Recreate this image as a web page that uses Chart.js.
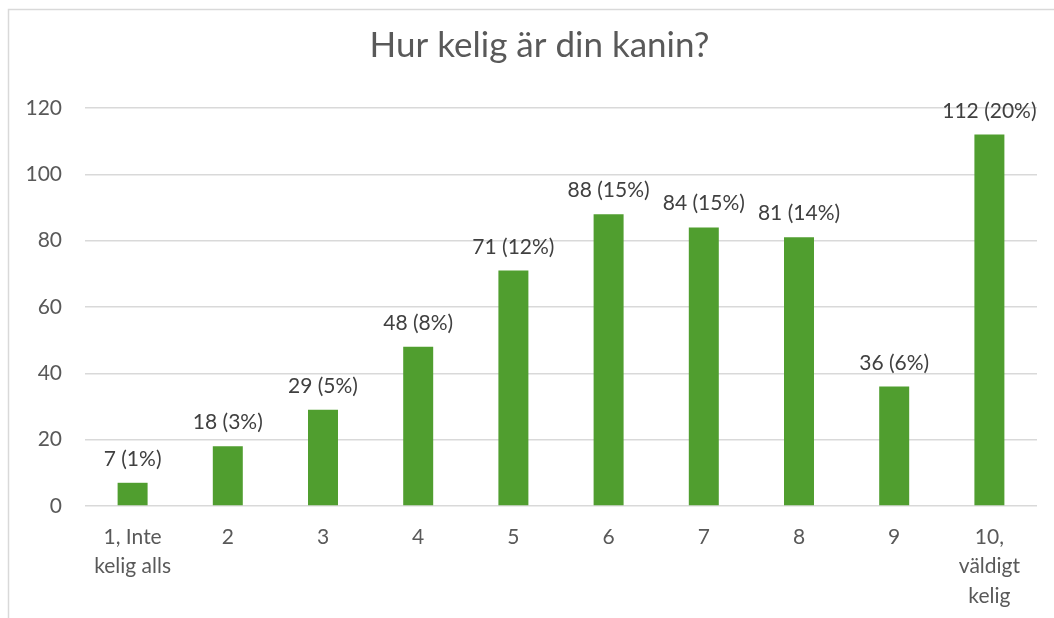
<!DOCTYPE html>
<html>
<head>
<meta charset="utf-8">
<script src="https://cdn.jsdelivr.net/npm/chart.js@4"></script>
<style>
  html, body { margin: 0; padding: 0; background: #fff; }
  #wrap { width: 1054px; height: 618px; }
</style>
</head>
<body>
<div id="wrap"><canvas id="c" width="1054" height="618"></canvas></div>
<script>
const kategorier = [['1, Inte', 'kelig alls'], '2', '3', '4', '5', '6', '7', '8', '9', ['10,', 'väldigt', 'kelig']];
const antal = [7, 18, 29, 48, 71, 88, 84, 81, 36, 112];
const procent = [1, 3, 5, 8, 12, 15, 15, 14, 6, 20];
const rubrik = 'Hur kelig är din kanin?';

const typsnitt = 'Lato, "Open Sans", sans-serif';

// ram runt diagrammet (bara vänster och övre kant syns)
const ram = {
  id: 'ram',
  beforeDraw(chart) {
    const ctx = chart.ctx;
    ctx.save();
    ctx.fillStyle = '#fff';
    ctx.fillRect(0, 0, chart.width, chart.height);
    ctx.strokeStyle = '#d9d9d9';
    ctx.lineWidth = 1.5;
    ctx.beginPath();
    ctx.moveTo(8.5, chart.height);
    ctx.lineTo(8.5, 9.5);
    ctx.lineTo(chart.width, 9.5);
    ctx.stroke();
    ctx.restore();
  }
};

// etiketter ovanför staplarna
const etiketter = {
  id: 'etiketter',
  afterDatasetsDraw(chart) {
    const ctx = chart.ctx;
    const meta = chart.getDatasetMeta(0);
    ctx.save();
    ctx.font = '21px ' + typsnitt;
    ctx.fillStyle = '#404040';
    ctx.textAlign = 'center';
    ctx.textBaseline = 'alphabetic';
    meta.data.forEach((bar, i) => {
      ctx.fillText(antal[i] + ' (' + procent[i] + '%)', bar.x, bar.y - 17);
    });
    ctx.restore();
  }
};

new Chart(document.getElementById('c'), {
  type: 'bar',
  data: {
    labels: kategorier,
    datasets: [{
      data: antal,
      backgroundColor: '#509e2f',
      categoryPercentage: 1,
      barPercentage: 0.315
    }]
  },
  options: {
    responsive: false,
    animation: false,
    // rubriken centreras över hela ramen, som går utanför bilden till höger
    layout: { padding: { left: 25, right: 0, top: 0, bottom: 0 } },
    plugins: {
      legend: { display: false },
      tooltip: { enabled: false },
      title: {
        display: true,
        text: rubrik,
        color: '#595959',
        font: { family: typsnitt, size: 35, weight: 'normal', lineHeight: 1.2 },
        padding: { top: 25, bottom: 41 }
      }
    },
    scales: {
      x: {
        grid: { display: false, drawTicks: false },
        border: { display: false },
        ticks: {
          color: '#595959',
          font: { family: typsnitt, size: 21, lineHeight: 1.42 },
          maxRotation: 0,
          autoSkip: false,
          padding: 16
        },
        afterFit(scale) { scale.height = 112; }
      },
      y: {
        min: 0,
        max: 120,
        ticks: {
          stepSize: 20,
          color: '#595959',
          font: { family: typsnitt, size: 21 },
          padding: 23
        },
        grid: { color: '#d9d9d9', lineWidth: 1.5, drawTicks: false },
        border: { display: false },
        afterFit(scale) { scale.width = 60; }
      },
      hoger: {
        position: 'right',
        display: true,
        grid: { display: false, drawTicks: false },
        ticks: { display: false },
        border: { display: false },
        afterFit(scale) { scale.width = 17; }
      }
    }
  },
  plugins: [ram, etiketter]
});
</script>
</body>
</html>
